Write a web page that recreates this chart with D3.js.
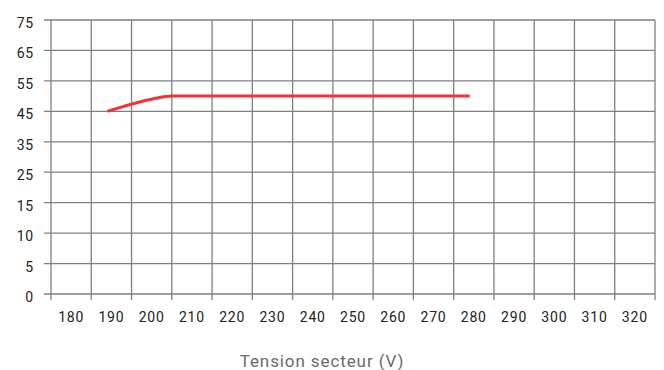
<!DOCTYPE html>
<html>
<head>
<meta charset="utf-8">
<script src="https://cdn.jsdelivr.net/npm/d3@7"></script>
<style>
  body { margin: 0; background: #fff; }
  svg text { font-family: Roboto, "DejaVu Sans", sans-serif; }
</style>
</head>
<body>
<div id="app"></div>
<script>
// tick labels
const xLabels = [180, 190, 200, 210, 220, 230, 240, 250, 260, 270, 280, 290, 300, 310, 320];
const xGrid = [175, 185, 195, 205, 215, 225, 235, 245, 255, 265, 275, 285, 295, 305, 315, 325];
const yLabels = [0, 5, 10, 15, 25, 35, 45, 55, 65, 75];

// series
const voltage = [189, 200, 205, 279];
const value = [45, 49, 50, 50];

const data = voltage.map((v, i) => ({ v: v, y: value[i] }));

const W = 664, H = 370;
const margin = { left: 51, right: 655, top: 20, bottom: 294 };

const svg = d3.select("#app")
  .append("svg")
    .attr("width", W)
    .attr("height", H);

const x = d3.scaleLinear()
  .domain([175, 325])
  .range([margin.left, margin.right]);

// y axis is not linear: labels are evenly spaced
const y = d3.scaleLinear()
  .domain(yLabels)
  .range(yLabels.map((d, i) => margin.bottom - i * (margin.bottom - margin.top) / (yLabels.length - 1)));

const gridColor = "#7d8083";

// horizontal grid
svg.append("g")
  .selectAll("line")
  .data(yLabels)
  .join("line")
    .attr("x1", margin.left - 7)
    .attr("x2", margin.right)
    .attr("y1", d => y(d))
    .attr("y2", d => y(d))
    .attr("stroke", gridColor)
    .attr("stroke-width", 1.3);

// vertical grid
svg.append("g")
  .selectAll("line")
  .data(xGrid)
  .join("line")
    .attr("x1", d => x(d))
    .attr("x2", d => x(d))
    .attr("y1", margin.top)
    .attr("y2", margin.bottom + 6)
    .attr("stroke", gridColor)
    .attr("stroke-width", 1.3);

// y labels
svg.append("g")
  .selectAll("text")
  .data(yLabels)
  .join("text")
    .attr("x", 34)
    .attr("y", d => y(d) + 8)
    .attr("text-anchor", "end")
    .attr("font-size", 14)
    .attr("letter-spacing", 0.8)
    .attr("fill", "#222")
    .text(d => d);

// x labels
svg.append("g")
  .selectAll("text")
  .data(xLabels)
  .join("text")
    .attr("x", d => x(d))
    .attr("y", 322)
    .attr("text-anchor", "middle")
    .attr("font-size", 14)
    .attr("letter-spacing", 0.8)
    .attr("fill", "#222")
    .text(d => d);

svg.append("text")
  .attr("x", 322)
  .attr("y", 367)
  .attr("text-anchor", "middle")
  .attr("font-size", 17)
  .attr("letter-spacing", 0.9)
  .attr("fill", "#6a6a6a")
  .text("Tension secteur (V)");

// line
const line = d3.line()
  .x(d => x(d.v))
  .y(d => y(d.y))
  .curve(d3.curveMonotoneX);

svg.append("path")
  .datum(data)
  .attr("d", line)
  .attr("fill", "none")
  .attr("stroke", "#f03333")
  .attr("stroke-width", 3);
</script>
</body>
</html>
